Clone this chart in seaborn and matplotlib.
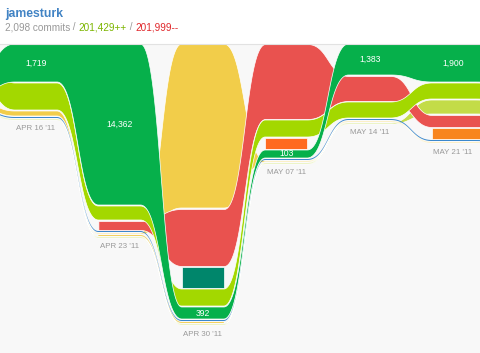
import numpy as np
import matplotlib
matplotlib.use("Agg")
import matplotlib.pyplot as plt
import seaborn as sns

# ---------------- data ----------------
week_labels = ["APR 09 '11", "APR 16 '11", "APR 23 '11", "APR 30 '11",
               "MAY 07 '11", "MAY 14 '11", "MAY 21 '11", "MAY 28 '11"]

# commits per week for each contributor (0 = no commits that week)
jamesturk_commits = [20, 38, 161, 12, 8, 31, 38, 40]
lime_commits      = [33, 27, 14, 17, 17, 16, 16, 16]
yellow_commits    = [6, 5, 1, 164, 1, 1, 1, 1]
red_commits       = [0, 0, 9, 57, 75, 25, 12, 12]
teal_commits      = [0, 0, 0, 21, 0, 0, 0, 0]
orange_a_commits  = [0, 0, 0, 0, 11, 0, 0, 0]
orange_b_commits  = [0, 0, 0, 0, 0, 0, 11, 11]
blue_commits      = [1, 1, 1, 1, 1, 1, 1, 1]
paleyellow_commits = [0, 0, 1, 1, 0, 0, 0, 0]
palelime_commits  = [1, 1, 1, 1, 1, 1, 14, 14]

# weekly line counts shown on jamesturk's band
jamesturk_labels = ["", "1,719", "14,362", "392", "103", "1,383", "1,900", ""]

user_name = "jamesturk"
total_commits = "2,098 commits"
total_added = "201,429++"
total_removed = "201,999--"

# contributors: tie-break priority order (for stacking)
names = ["jamesturk", "lime", "red", "teal", "orange_a", "orange_b",
         "blue", "yellow", "paleyellow", "palelime"]
series = {
    "jamesturk": jamesturk_commits, "lime": lime_commits, "yellow": yellow_commits,
    "red": red_commits, "teal": teal_commits, "orange_a": orange_a_commits,
    "orange_b": orange_b_commits, "blue": blue_commits,
    "paleyellow": paleyellow_commits, "palelime": palelime_commits,
}
colors = {
    "jamesturk": "#06b04b", "lime": "#a3d800", "yellow": "#f2cd4a",
    "red": "#e9524f", "teal": "#00866b", "orange_a": "#ff6a20",
    "orange_b": "#f8851e", "blue": "#3c88cc", "paleyellow": "#f3d260",
    "palelime": "#c3dc48",
}
draw_order = ["paleyellow", "palelime", "yellow", "blue", "red", "teal",
              "orange_a", "orange_b", "lime", "jamesturk"]

# ---------------- layout helpers ----------------
GAP = 1.0
HALF = 0.252          # half column width in week units
n_weeks = len(week_labels)

tops = {k: [None] * n_weeks for k in names}
bots = {k: [None] * n_weeks for k in names}
week_bottom = []
for w in range(n_weeks):
    present = [k for k in names if series[k][w] > 0]
    present.sort(key=lambda k: (-series[k][w], names.index(k)))
    y = 0.0
    for k in present:
        tops[k][w] = y
        bots[k][w] = y + series[k][w]
        y = y + series[k][w] + GAP
    week_bottom.append(y - GAP)

t = np.linspace(0, 1, 80)
u = 1.5 * t * (1 - t) + t ** 3      # bezier x progress (control pts at mid)
v = 3 * t ** 2 - 2 * t ** 3         # bezier y progress


def band_runs(k):
    vals = series[k]
    runs, cur = [], []
    for w in range(n_weeks):
        if vals[w] > 0:
            cur.append(w)
        elif cur:
            runs.append(cur); cur = []
    if cur:
        runs.append(cur)
    return runs


sns.set_theme(style="white")
plt.rcParams["font.family"] = ["Liberation Sans", "DejaVu Sans"]

W, H = 480, 353
fig = plt.figure(figsize=(W / 100, H / 100), dpi=100)
fig.patch.set_facecolor("white")
top_px = 44
ax = fig.add_axes([0, 0, 1, (H - top_px) / H])
ax.set_facecolor("#f8f8f8")
spacing = 83.4
first_center = 36
xlo = 1 - first_center / spacing
xhi = 1 + (W - first_center) / spacing
ax.set_xlim(xlo, xhi)
ax.set_ylim(H - top_px, 0)
for s in ["left", "right", "bottom"]:
    ax.spines[s].set_visible(False)
ax.spines["top"].set_color("#e2e2e2")
ax.spines["top"].set_linewidth(0.8)
ax.set_xticks([]); ax.set_yticks([])

for k in draw_order:
    for run in band_runs(k):
        xs, ts, bs = [], [], []
        for i, w in enumerate(run):
            xs += [w - HALF, w + HALF]
            ts += [tops[k][w]] * 2
            bs += [bots[k][w]] * 2
            if i + 1 < len(run):
                w2 = run[i + 1]
                x0, x1 = w + HALF, w2 - HALF
                xs += list(x0 + (x1 - x0) * u[1:-1])
                ts += list(tops[k][w] + (tops[k][w2] - tops[k][w]) * v[1:-1])
                bs += list(bots[k][w] + (bots[k][w2] - bots[k][w]) * v[1:-1])
        thick = max(series[k][w] for w in run) >= 3
        ax.fill_between(np.array(xs), np.array(ts), np.array(bs),
                        facecolor=colors[k],
                        edgecolor="white" if thick else "none",
                        linewidth=0.5 if thick else 0, zorder=2)

# jamesturk value labels
for w in range(n_weeks):
    if jamesturk_labels[w] and series["jamesturk"][w] > 0:
        ym = (tops["jamesturk"][w] + bots["jamesturk"][w]) / 2
        ax.text(w, ym, jamesturk_labels[w], color="white", fontsize=6.2,
                ha="center", va="center", zorder=5)

# week labels (only weeks whose column is inside the view)
for w in range(n_weeks):
    if xlo + 0.2 < w < xhi - 0.2:
        ax.text(w, week_bottom[w] + 9, week_labels[w], color="#999999",
                fontsize=5.7, ha="center", va="center", zorder=5)

# header
fig.text(5 / W, 1 - 14 / H, user_name, color="#4183c4", fontsize=8.8,
         fontweight="bold", ha="left", va="center")
renderer = fig.canvas.get_renderer()
pieces = [(total_commits, "#999999"), (" / ", "#999999"),
          (total_added, "#7cb500"), (" / ", "#999999"),
          (total_removed, "#e0262a")]


def text_width(s):
    probe = fig.text(0, 0, s + "|", fontsize=7.2)
    bar = fig.text(0, 0, "|", fontsize=7.2)
    wdt = probe.get_window_extent(renderer).width - bar.get_window_extent(renderer).width
    probe.remove(); bar.remove()
    return wdt


prefix = ""
for txt, col in pieces:
    xpix = 5 + (text_width(prefix) if prefix else 0)
    fig.text(xpix / W, 1 - 27.5 / H, txt, color=col, fontsize=7.2,
             ha="left", va="center")
    prefix += txt

fig.savefig("out.png", dpi=100, facecolor="white")
